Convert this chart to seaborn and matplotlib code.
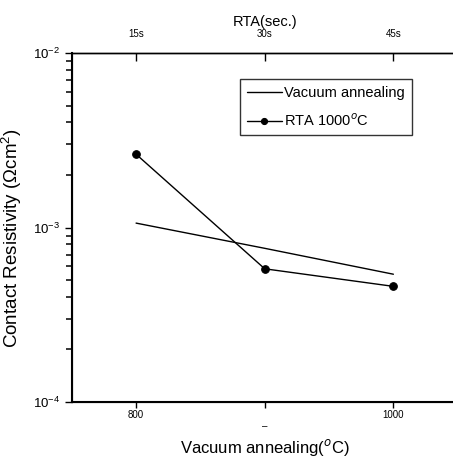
import matplotlib
matplotlib.use("Agg")
import matplotlib.pyplot as plt
from matplotlib.ticker import NullFormatter
import seaborn as sns
import pandas as pd

sns.set_style("white")
plt.rcParams['font.family'] = ['Liberation Sans', 'DejaVu Sans']
plt.rcParams['mathtext.fontset'] = 'custom'
plt.rcParams['mathtext.rm'] = 'Liberation Sans'
for key in ['text.color', 'axes.labelcolor', 'xtick.color', 'ytick.color', 'axes.edgecolor']:
    plt.rcParams[key] = 'black'

# data
temps = [800, 900, 1000]
rta_times = ['15s', '30s', '45s']
vacuum = [1.06e-3, 7.6e-4, 5.4e-4]
rta = [2.63e-3, 5.8e-4, 4.6e-4]
temp_labels = ['800', '\n\u2013', '1000']
decades = [-4, -3]

df = pd.DataFrame({'temp': temps * 2,
                   'rho': vacuum + rta,
                   'series': ['Vacuum annealing'] * 3 + ['RTA 1000$^o$C'] * 3})

fig = plt.figure(figsize=(4.53, 4.63), dpi=100)
ax = fig.add_axes([0.1584, 0.1317, 0.852, 0.7538])

sns.lineplot(data=df[df.series == 'Vacuum annealing'], x='temp', y='rho', ax=ax,
             color='black', linewidth=1.0, label='Vacuum annealing')
sns.lineplot(data=df[df.series != 'Vacuum annealing'], x='temp', y='rho', ax=ax,
             color='black', linewidth=1.0, marker='o', markersize=5.5,
             markeredgecolor='black', label='RTA 1000$^o$C')

ax.set_yscale('log')
ax.set_xlim(750, 1050)

# top axis for RTA time
top = ax.twiny()
top.set_xlim(ax.get_xlim())
top.set_xticks(temps, rta_times)
top.tick_params(axis='x', direction='in', length=6, width=1, labelsize=7, pad=10, top=True)
top.set_xlabel('RTA(sec.)', fontsize=10.5, labelpad=2)
top.spines['right'].set_visible(False)
top.spines['top'].set_linewidth(1.0)

ax.set_ylim(1e-4, 1e-2)
ax.set_xticks(temps, temp_labels)
ax.set_yticks([1e-4, 1e-3, 1e-2], ['10$^{-4}$', '10$^{-3}$', '10$^{-2}$'])
minor = [s * 10.0 ** d for d in decades for s in range(2, 10)]
ax.set_yticks(minor, minor=True)
ax.yaxis.set_minor_formatter(NullFormatter())
ax.tick_params(axis='x', direction='out', length=4, width=1, labelsize=7, pad=1.5, bottom=True)
ax.tick_params(axis='y', which='major', direction='out', length=5, width=1, labelsize=9.5, left=True)
ax.tick_params(axis='y', which='minor', direction='out', length=4, width=1.1, left=True,
               color='black')
ax.set_xlabel('Vacuum annealing($^o$C)', fontsize=12)
ax.xaxis.set_label_coords(0.5, -0.1)
ax.set_ylabel('Contact Resistivity ($\\Omega$cm$^2$)', fontsize=13.5)
ax.yaxis.set_label_coords(-0.125, 0.47)

for side in ['left', 'bottom']:
    ax.spines[side].set_linewidth(1.5)
ax.spines['top'].set_linewidth(1.0)
ax.spines['right'].set_visible(False)

leg = ax.legend(loc='upper right', bbox_to_anchor=(0.881, 0.925), fontsize=10.5,
                frameon=True, fancybox=False, edgecolor='black', handlelength=2.4,
                handletextpad=0.2, borderpad=0.45, labelspacing=0.85, borderaxespad=0,
                markerscale=0.8)
leg.get_frame().set_linewidth(1.0)

fig.savefig('out.png', dpi=100)
